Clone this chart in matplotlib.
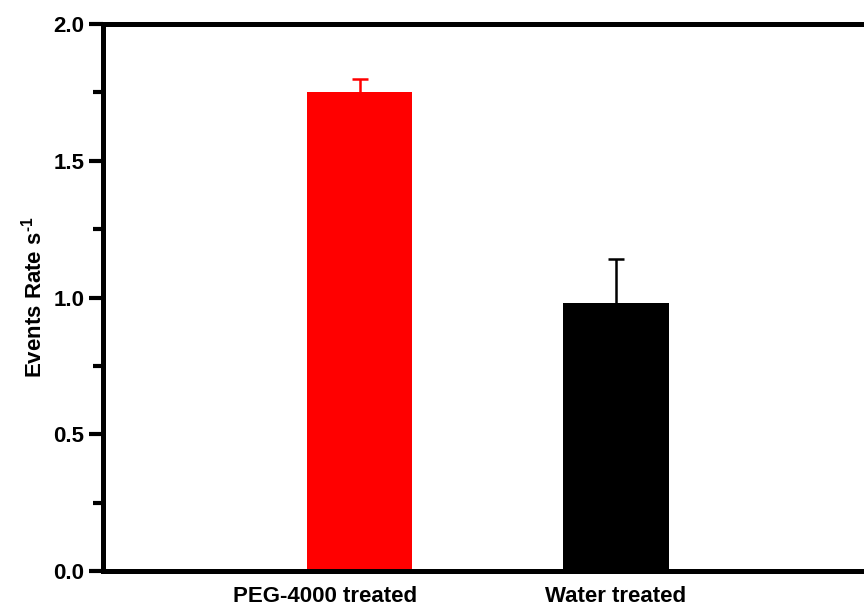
import matplotlib
matplotlib.use("Agg")
import matplotlib.pyplot as plt
from matplotlib.ticker import MultipleLocator, FormatStrFormatter
import matplotlib.transforms as mtransforms

plt.rcParams['font.family'] = ['Liberation Sans', 'DejaVu Sans']
plt.rcParams['font.weight'] = 'bold'
plt.rcParams['mathtext.fontset'] = 'custom'
plt.rcParams['mathtext.rm'] = 'Liberation Sans:bold'
plt.rcParams['mathtext.bf'] = 'Liberation Sans:bold'

categories = ["PEG-4000 treated", "Water treated"]
rates = [1.75, 0.98]
errors = [0.05, 0.16]
colors = ["#ff0000", "#000000"]
positions = [1, 2]

fig = plt.figure(figsize=(8.64, 6.14), dpi=100)
ax = fig.add_axes([103 / 864, 1 - 571 / 614, 769.5 / 864, 547 / 614])

for x, v, e, c in zip(positions, rates, errors, colors):
    ax.bar(x, v, width=0.41, color=c, zorder=2)
    eb = ax.errorbar(x, v, yerr=[[0], [e]], ecolor=c, elinewidth=1.8,
                     capsize=6, capthick=1.8, fmt='none', zorder=1)
    # upper-only error bar: drop the cap at the bar top
    caps = eb.lines[1]
    if caps:
        caps[0].set_visible(False)

ax.set_xlim(0, 3)
ax.set_ylim(0, 2.0)
ax.yaxis.set_major_locator(MultipleLocator(0.5))
ax.yaxis.set_minor_locator(MultipleLocator(0.25))
ax.yaxis.set_major_formatter(FormatStrFormatter('%.1f'))

for s in ax.spines.values():
    s.set_linewidth(3.6)
ax.tick_params(axis='y', which='major', direction='out', length=10, width=3,
               labelsize=16, pad=3.5)
ax.tick_params(axis='y', which='minor', direction='out', length=7, width=3)
ax.tick_params(axis='x', length=0, labelsize=16, pad=10.5)

ax.set_xticks(positions)
ax.set_xticklabels(categories, fontweight='bold')
# shift the first category label a little to the left
lbl = ax.get_xticklabels()[0]
lbl.set_transform(lbl.get_transform() + mtransforms.ScaledTranslation(-34.5 / 100, 0, fig.dpi_scale_trans))

for t in ax.get_yticklabels():
    t.set_fontweight('bold')

ax.set_ylabel("Events Rate s$^{\\text{-1}}$", fontsize=16, fontweight='bold', labelpad=5)

fig.savefig("out.png", dpi=100)
